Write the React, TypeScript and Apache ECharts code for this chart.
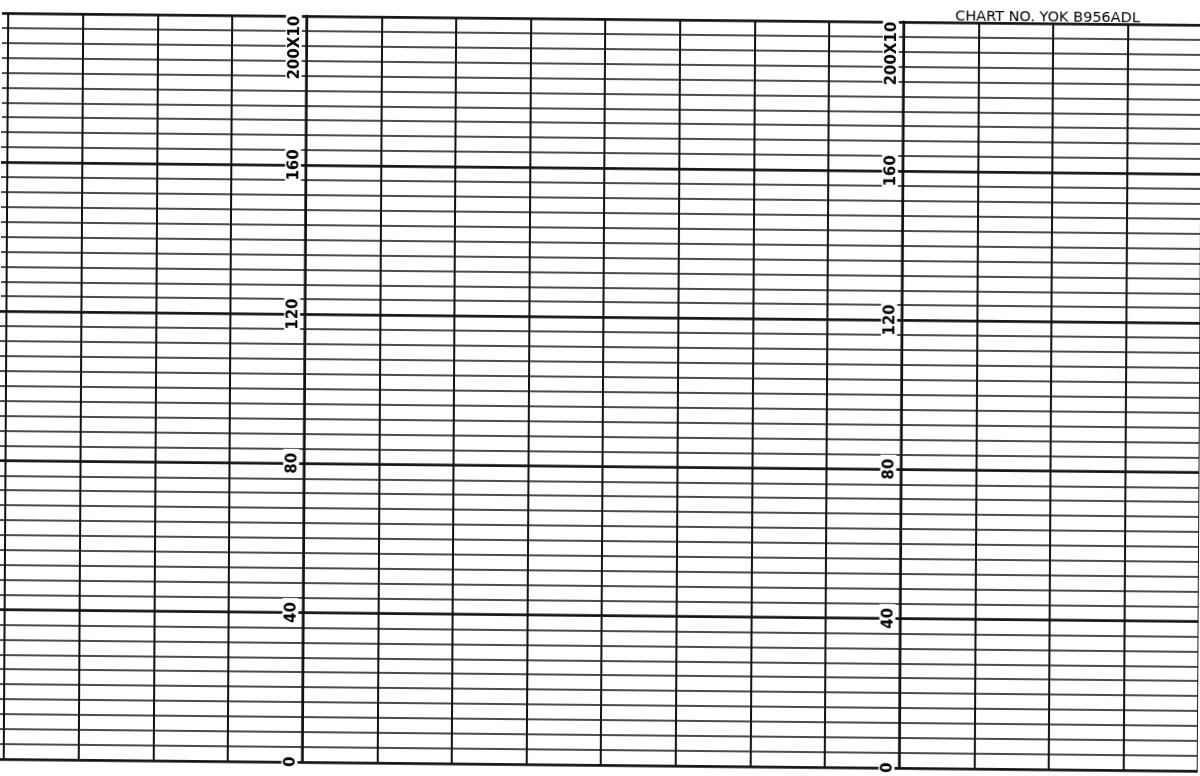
import { useEffect, useRef } from "react";
import * as echarts from "echarts";

// time divisions across the strip (one extra each side so the lines run off the page)
const columnTicks = [-1, 0, 1, 2, 3, 4, 5, 6, 7, 8, 9, 10, 11, 12, 13, 14, 15, 16, 17];
const minorStep = 4;
const majorTicks = [0, 40, 80, 120, 160, 200];
const tickLabels = ["0", "40", "80", "120", "160", "200X10"];
const labelColumns = [4, 12];
const chartNumber = "CHART NO. YOK B956ADL";

const ink = "#111";
const font = "'DejaVu Sans', 'Noto Sans', sans-serif";
const colWidth = 74.625;
const firstColumnX = 6.2;

export default function App() {
  const ref = useRef<HTMLDivElement | null>(null);

  useEffect(() => {
    if (!ref.current) return;
    const chart = echarts.init(ref.current, undefined, { renderer: "svg" });

    const xMin = columnTicks[0];
    const xMax = columnTicks[columnTicks.length - 1];
    const yMin = majorTicks[0];
    const yMax = majorTicks[majorTicks.length - 1];
    const gridLeft = firstColumnX + xMin * colWidth;
    const gridWidth = (xMax - xMin) * colWidth;

    const formatLabel = (value: number) => {
      const text = tickLabels[majorTicks.indexOf(value)] ?? String(value);
      return value === yMax ? `{top|${text}}` : text;
    };

    const labelAxis = (col: number, withSplit: boolean) => ({
      type: "value",
      position: "left",
      offset: -(col - xMin) * colWidth,
      min: yMin,
      max: yMax,
      interval: 40,
      axisLine: { show: true, lineStyle: { color: ink, width: 2.5 } },
      axisTick: { show: false },
      splitLine: { show: withSplit, lineStyle: { color: ink, width: 2.5 } },
      axisLabel: {
        rotate: 90,
        margin: 5,
        color: "#000",
        fontSize: 15,
        fontWeight: "bold",
        fontFamily: font,
        backgroundColor: "#fff",
        padding: [1, 4, 0, 4],
        formatter: formatLabel,
        rich: {
          top: {
            color: "#000",
            fontSize: 15,
            fontWeight: "bold",
            fontFamily: font,
            padding: [0, 64, 0, 0],
          },
        },
      },
    });

    chart.setOption({
      animation: false,
      backgroundColor: "#fff",
      title: {
        text: chartNumber,
        left: 953,
        top: 4,
        padding: 0,
        textStyle: { color: "#000", fontSize: 14.5, fontWeight: "normal", fontFamily: font },
      },
      grid: {
        left: gridLeft,
        width: gridWidth,
        top: 18.75,
        height: 746,
        containLabel: false,
        outerBoundsMode: "none",
      },
      xAxis: {
        type: "value",
        min: xMin,
        max: xMax,
        interval: 1,
        axisLine: { show: false },
        axisTick: { show: false },
        axisLabel: { show: false },
        splitLine: { show: true, lineStyle: { color: ink, width: 2 } },
      },
      yAxis: [
        {
          type: "value",
          min: yMin,
          max: yMax,
          interval: minorStep,
          axisLine: { show: false },
          axisTick: { show: false },
          axisLabel: { show: false },
          splitLine: { show: true, lineStyle: { color: ink, width: 1.6 } },
        },
        labelAxis(labelColumns[0], true),
        labelAxis(labelColumns[1], false),
      ],
      series: [],
    });

    return () => {
      chart.dispose();
    };
  }, []);

  return (
    <div
      style={{
        position: "fixed",
        left: 0,
        top: 0,
        width: 1200,
        height: 776,
        transform: "matrix(1, 0.0099, -0.006, 1, 0, 0)",
      }}
    >
      <div ref={ref} style={{ width: "100%", height: "100%" }} />
    </div>
  );
}
